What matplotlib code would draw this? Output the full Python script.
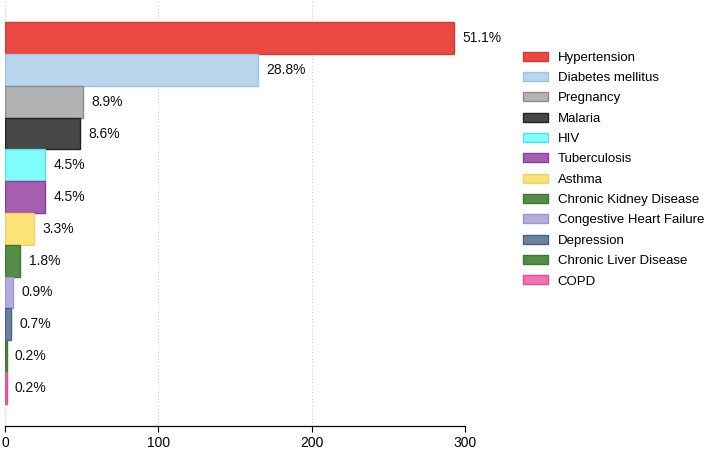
import matplotlib.pyplot as plt
from matplotlib.patches import Patch

plt.rcParams['font.family'] = ['Liberation Sans', 'DejaVu Sans']

conditions = ['Hypertension', 'Diabetes mellitus', 'Pregnancy', 'Malaria', 'HIV',
              'Tuberculosis', 'Asthma', 'Chronic Kidney Disease',
              'Congestive Heart Failure', 'Depression', 'Chronic Liver Disease', 'COPD']
counts = [293, 165, 51, 49, 26, 26, 19, 10, 5, 4, 1, 1]
pct_labels = ['51.1%', '28.8%', '8.9%', '8.6%', '4.5%', '4.5%', '3.3%', '1.8%',
              '0.9%', '0.7%', '0.2%', '0.2%']

fills = ['#EA4840', '#B8D5EE', '#B3B3B3', '#474747', '#80FDFD', '#A55FAE',
         '#FDE27A', '#558C48', '#B1AEDD', '#6C829E', '#558C48', '#F074B4']
edges = ['#D63A33', '#9EC3E6', '#8C8C8C', '#222222', '#5FE0E0', '#8B3E99',
         '#F2D060', '#3E7A32', '#9A96D0', '#4A6585', '#3E7A32', '#E8489B']

fig = plt.figure(figsize=(7.08, 4.49), dpi=100)
ax = fig.add_axes([5/708, 23/449, 460/708, 426/449])

ypos = list(range(len(conditions)))
ax.barh(ypos, counts, height=1.0, color=fills, edgecolor=edges, linewidth=1, zorder=3)

for y, c, lab in zip(ypos, counts, pct_labels):
    ax.annotate(lab, (c, y), xytext=(6, 0), textcoords='offset points',
                va='center', ha='left', fontsize=10, color='#111111')

ax.set_xlim(0, 300)
ax.set_ylim(len(conditions) - 0.5 + 0.7, -0.5 - 0.7)
ax.set_xticks([0, 100, 200, 300])
ax.set_yticks([])
ax.grid(axis='x', linestyle=(0, (1, 2)), color='#cccccc', linewidth=0.8, zorder=0)
for s in ['top', 'right', 'left']:
    ax.spines[s].set_visible(False)
ax.spines['bottom'].set_linewidth(0.9)
ax.tick_params(axis='x', length=4, width=0.8, labelsize=10, pad=3)

handles = [Patch(facecolor=f, edgecolor=e, label=n) for f, e, n in zip(fills, edges, conditions)]
fig.legend(handles=handles, loc='upper left', bbox_to_anchor=(0.738, 0.885),
           frameon=False, fontsize=9.5, handlelength=1.9, handleheight=0.68,
           handletextpad=0.76, labelspacing=0.62, borderpad=0, borderaxespad=0)

fig.savefig('out.png', dpi=100)
